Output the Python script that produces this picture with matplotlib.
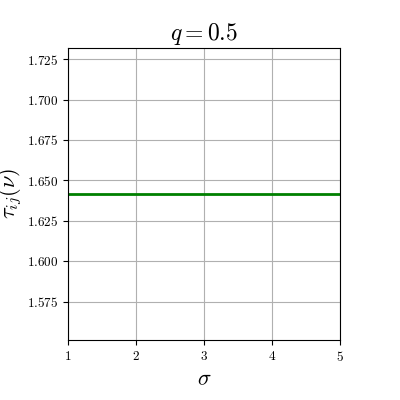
import matplotlib
matplotlib.use('Agg')
import matplotlib.pyplot as plt

plt.rcParams['font.family'] = 'serif'
plt.rcParams['font.serif'] = ['cmr10']
plt.rcParams['mathtext.fontset'] = 'cm'
plt.rcParams['axes.formatter.use_mathtext'] = True

sigma = [1, 2, 3, 4, 5]
tau = [1.6416, 1.6416, 1.6416, 1.6416, 1.6416]

fig = plt.figure(figsize=(4, 4), dpi=100)
ax = fig.add_axes([0.17, 0.15, 0.68, 0.73])
ax.plot(sigma, tau, color='g', linewidth=2)
ax.set_xlim(1, 5)
ax.set_xticks(sigma)
ax.grid(True)
ax.tick_params(labelsize=9.5)
ax.set_title(r'$q = 0.5$', fontsize=17)
ax.set_xlabel(r'$\sigma$', fontsize=16)
ax.set_ylabel(r'$\tau_{ij}(\nu)$', fontsize=16, labelpad=2)
fig.savefig('out.png')
